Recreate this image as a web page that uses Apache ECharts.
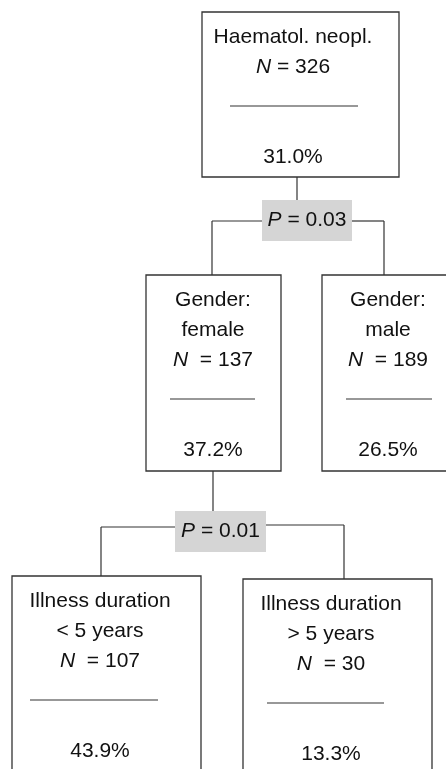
<!DOCTYPE html>
<html>
<head>
<meta charset="utf-8">
<script src="https://cdn.jsdelivr.net/npm/echarts@6/dist/echarts.min.js"></script>
<style>
  html, body { margin: 0; padding: 0; background: #fff; }
  #tree { width: 446px; height: 769px; }
</style>
</head>
<body>
<div id="tree"></div>
<script>
// 数据
var nodeTitles = [
    ['Haematol. neopl.'],
    ['Gender:', 'female'],
    ['Gender:', 'male'],
    ['Illness duration', '< 5 years'],
    ['Illness duration', '> 5 years']
];
var nodeN = [326, 137, 189, 107, 30];
var nodePct = [31.0, 37.2, 26.5, 43.9, 13.3];
var splitParent = [0, 1];
var splitChildren = [[1, 2], [3, 4]];
var splitP = ['0.03', '0.01'];

// 布局 (页面像素): [left, top, right, bottom, textX, sepLeft, sepRight]
var boxLayout = [
    [202, 12, 399, 177, 293, 230, 358],
    [146, 275, 281, 471, 213, 170, 255],
    [322, 275, 480, 471, 388, 346, 432],
    [12, 576, 201, 800, 100, 30, 158],
    [243, 579, 432, 800, 331, 267, 384]
];
var splitLayout = [
    { box: [262, 200, 352, 241], stemX: 297, barY: [221, 221], drop: [212, 384] },
    { box: [175, 511, 266, 552], stemX: 213, barY: [527, 525], drop: [101, 344] }
];

var FONT = '"Liberation Sans", Arial, Helvetica, sans-serif';
var INK = '#111';
var EDGE = '#333';

function seg(api, x1, y1, x2, y2, w) {
    var a = api.coord([x1, y1]), b = api.coord([x2, y2]);
    return {
        type: 'line',
        shape: { x1: a[0], y1: a[1], x2: b[0], y2: b[1] },
        style: { stroke: EDGE, lineWidth: w || 1.2 }
    };
}

function label(api, x, y, text) {
    var p = api.coord([x, y]);
    return {
        type: 'text',
        x: p[0],
        y: p[1],
        style: {
            text: text,
            fill: INK,
            fontSize: 21,
            fontFamily: FONT,
            align: 'center',
            verticalAlign: 'middle',
            rich: {
                i: { fontStyle: 'italic', fontSize: 21, fontFamily: FONT, fill: INK }
            }
        }
    };
}

function renderNode(params, api) {
    var k = api.value(0);
    var L = boxLayout[k];
    var tl = api.coord([L[0], L[1]]);
    var br = api.coord([L[2], L[3]]);
    var kids = [{
        type: 'rect',
        shape: { x: tl[0], y: tl[1], width: br[0] - tl[0], height: br[1] - tl[1] },
        style: { fill: '#fff', stroke: EDGE, lineWidth: 1.3 }
    }];
    var y = L[1] + 25;
    nodeTitles[k].forEach(function(t) {
        kids.push(label(api, L[4], y, t));
        y += 30;
    });
    kids.push(label(api, L[4], y, '{i|N}' + (k === 0 ? ' = ' : '  = ') + nodeN[k]));
    var sepY = y + 39;
    kids.push(seg(api, L[5], sepY, L[6], sepY, 1.2));
    kids.push(label(api, L[4], sepY + 51, nodePct[k].toFixed(1) + '%'));
    return { type: 'group', children: kids };
}

function renderSplit(params, api) {
    var s = api.value(0);
    var S = splitLayout[s];
    var parent = boxLayout[splitParent[s]];
    var c1 = boxLayout[splitChildren[s][0]];
    var c2 = boxLayout[splitChildren[s][1]];
    var tl = api.coord([S.box[0], S.box[1]]);
    var br = api.coord([S.box[2], S.box[3]]);
    var kids = [
        seg(api, S.stemX, parent[3], S.stemX, S.box[1]),
        seg(api, S.drop[0], S.barY[0], S.box[0], S.barY[0]),
        seg(api, S.box[2], S.barY[1], S.drop[1], S.barY[1]),
        seg(api, S.drop[0], S.barY[0], S.drop[0], c1[1]),
        seg(api, S.drop[1], S.barY[1], S.drop[1], c2[1]),
        {
            type: 'rect',
            shape: { x: tl[0], y: tl[1], width: br[0] - tl[0], height: br[1] - tl[1] },
            style: { fill: '#d5d5d5', stroke: null }
        },
        label(api, (S.box[0] + S.box[2]) / 2, (S.box[1] + S.box[3]) / 2, '{i|P} = ' + splitP[s])
    ];
    return { type: 'group', children: kids };
}

var myChart = echarts.init(document.getElementById('tree'));
var option = {
    animation: false,
    grid: { left: 0, right: 0, top: 0, bottom: 0 },
    xAxis: { type: 'value', min: 0, max: 446, show: false },
    yAxis: { type: 'value', min: 0, max: 769, inverse: true, show: false },
    series: [{
        type: 'custom',
        clip: false,
        renderItem: renderSplit,
        data: splitP.map(function(p, i) { return [i]; })
    }, {
        type: 'custom',
        clip: false,
        renderItem: renderNode,
        data: nodeN.map(function(n, i) { return [i]; })
    }]
};
myChart.setOption(option);

// 自适应
window.addEventListener('resize', function() {
    myChart.resize();
});
</script>
</body>
</html>
